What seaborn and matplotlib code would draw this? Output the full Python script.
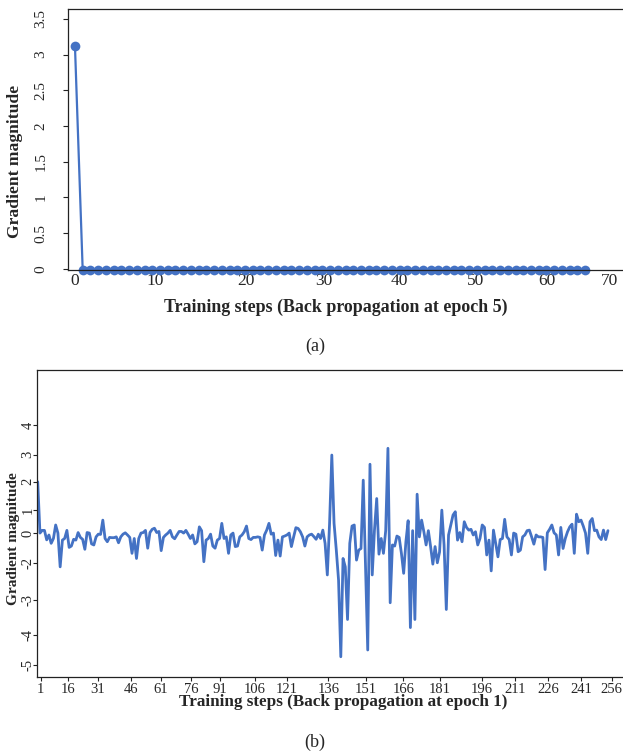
import matplotlib
matplotlib.use("Agg")
import matplotlib.pyplot as plt
import seaborn as sns
import pandas as pd

# ---------------- data (a) ----------------
steps_a = list(range(67))
grad_a = [3.12,
          -0.02, -0.02, -0.02, -0.02, -0.02, -0.02, -0.02, -0.02, -0.02, -0.02,
          -0.02, -0.02, -0.02, -0.02, -0.02, -0.02, -0.02, -0.02, -0.02, -0.02,
          -0.02, -0.02, -0.02, -0.02, -0.02, -0.02, -0.02, -0.02, -0.02, -0.02,
          -0.02, -0.02, -0.02, -0.02, -0.02, -0.02, -0.02, -0.02, -0.02, -0.02,
          -0.02, -0.02, -0.02, -0.02, -0.02, -0.02, -0.02, -0.02, -0.02, -0.02,
          -0.02, -0.02, -0.02, -0.02, -0.02, -0.02, -0.02, -0.02, -0.02, -0.02,
          -0.02, -0.02, -0.02, -0.02, -0.02, -0.02]
xtick_pos_a = [0, 10.35, 22.1, 32.2, 42.0, 51.8, 61.0, 69.1]
xtick_lab_a = ["0", "10", "20", "30", "40", "50", "60", "70"]
ytick_pos_a = [0, 0.5, 1, 1.5, 2, 2.5, 3, 3.5]
ytick_lab_a = ["0", "0.5", "1", "1.5", "2", "2.5", "3", "3.5"]

# ---------------- data (b) ----------------
grad_b = [
    1.9, 0.0, 0.1, 0.1, -0.25, -0.07, -0.38, -0.2, 0.3, 0.0,
    -1.25, -0.26, -0.2, 0.1, -0.53, -0.48, -0.23, -0.26, 0.02, -0.16,
    -0.23, -0.6, 0.02, 0.0, -0.4, -0.44, -0.14, -0.04, -0.05, 0.48,
    -0.2, -0.32, -0.16, -0.17, -0.17, -0.14, -0.36, -0.14, -0.04, 0.01,
    -0.07, -0.16, -0.75, -0.2, -0.94, -0.2, 0.0, 0.02, 0.1, -0.56,
    0.02, 0.14, 0.18, 0.02, 0.06, -0.65, -0.16, -0.07, 0.0, 0.1,
    -0.14, -0.21, -0.07, 0.06, 0.06, 0.0, 0.1, -0.04, -0.2, -0.07,
    -0.4, -0.32, 0.23, 0.09, -1.06, -0.26, -0.2, -0.04, -0.48, -0.56,
    -0.26, -0.2, 0.36, -0.2, -0.14, -0.75, -0.07, 0.0, -0.5, -0.48,
    -0.14, -0.07, 0.05, 0.26, -0.2, -0.24, -0.16, -0.16, -0.14, -0.16,
    -0.63, -0.07, 0.11, 0.36, -0.04, 0.0, -0.83, -0.26, -0.85, -0.14,
    -0.11, -0.07, 0.0, -0.5, -0.14, 0.2, 0.17, 0.05, -0.14, -0.48,
    -0.14, -0.07, -0.04, -0.13, -0.23, -0.04, -0.2, 0.11, -0.38, -1.55,
    0.36, 2.89, 0.36, -0.63, -1.74, -4.58, -0.94, -1.25, -3.2, -0.38,
    0.26, 0.3, -1.0, -0.63, -0.57, 1.96, -1.25, -4.33, 2.55, -1.55,
    0.11, 1.28, -0.78, -0.2, -0.75, 0.09, 3.14, -2.58, -0.44, -0.48,
    -0.11, -0.16, -0.75, -1.49, -0.32, 0.46, -3.5, 0.09, -3.2, 1.44,
    -0.14, 0.48, 0.05, -0.44, 0.09, -0.5, -1.15, -0.5, -1.1, -0.7,
    0.85, -0.44, -2.83, -0.07, 0.3, 0.67, 0.79, -0.26, 0.02, -0.32,
    0.42, 0.21, 0.11, 0.14, -0.07, 0.05, -0.44, -0.2, 0.3, 0.21,
    -0.81, -0.26, -1.4, 0.11, -0.38, -0.88, -0.24, -0.2, 0.51, -0.14,
    -0.24, -0.81, 0.0, -0.04, -0.69, -0.63, -0.14, -0.07, 0.09, 0.11,
    -0.14, -0.41, -0.07, -0.14, -0.14, -0.16, -1.35, 0.01, 0.14, 0.3,
    0.01, -0.07, -0.81, 0.21, -0.57, -0.2, 0.05, 0.23, 0.33, -0.75,
    0.7, 0.42, 0.48, 0.26, 0.0, -0.75, 0.42, 0.54, 0.09, 0.11,
    -0.14, -0.24, 0.11, -0.24, 0.09]
steps_b = list(range(len(grad_b)))
xtick_pos_b = [1.3, 13.6, 26.7, 41.6, 54.8, 68.2, 81.2, 96.8, 110.9, 129.4,
               146.1, 162.9, 179.2, 197.8, 212.6, 227.4, 242.0, 255.7]
xtick_lab_b = ["1", "16", "31", "46", "61", "76", "91", "106", "121", "136",
               "151", "166", "181", "196", "211", "226", "241", "256"]
ytick_pos_b = [4.0, 2.91, 1.90, 0.85, 0.0, -1.10, -2.46, -3.78, -4.89]
ytick_lab_b = ["4", "3", "2", "1", "0", "-2", "-3", "-4", "-5"]

# ---------------- style ----------------
sns.set_style("ticks")
plt.rcParams["font.family"] = ["Liberation Serif", "DejaVu Serif"]
plt.rcParams["axes.unicode_minus"] = False

BLUE = "#4472C4"
SPINE = "#222222"

fig = plt.figure(figsize=(6.23, 7.55), dpi=100)
W, H = 623.0, 755.0

def box(l, t, r, b):
    return [l / W, 1 - b / H, (r - l) / W, (b - t) / H]

# ---------------- (a) ----------------
ax1 = fig.add_axes(box(67.7, 9, 623, 270))
df_a = pd.DataFrame({"step": steps_a, "grad": grad_a})
sns.lineplot(data=df_a, x="step", y="grad", ax=ax1, color=BLUE, linewidth=1.6,
             marker="o", markersize=7, markeredgewidth=0, clip_on=False)
ax1.set_xlim(-0.94, 70.9)
ax1.set_ylim(-0.018, 3.64)
ax1.set_xticks(xtick_pos_a)
ax1.set_xticklabels(xtick_lab_a, fontsize=12.5)
ax1.set_yticks(ytick_pos_a)
ax1.set_yticklabels(ytick_lab_a, fontsize=11, rotation=90, va="center")
ax1.tick_params(axis="x", length=0, pad=2)
ax1.tick_params(axis="y", length=3.5, width=0.8, pad=11, color=SPINE)
ax1.set_xlabel("Training steps (Back propagation at epoch 5)", fontsize=12.9,
               fontweight="bold")
ax1.set_ylabel("Gradient magnitude", fontsize=12.6, fontweight="bold")
ax1.xaxis.set_label_coords(0.482, -0.111)
ax1.yaxis.set_label_coords(-0.080, 0.416)
for s in ["left", "bottom", "top"]:
    ax1.spines[s].set_color(SPINE)
    ax1.spines[s].set_linewidth(0.9)
ax1.spines["right"].set_visible(False)
fig.text(315 / W, 1 - 346 / H, "(a)", fontsize=13, ha="center", va="center")

# ---------------- (b) ----------------
ax2 = fig.add_axes(box(36.7, 370, 623, 677))
df_b = pd.DataFrame({"step": steps_b, "grad": grad_b})
sns.lineplot(data=df_b, x="step", y="grad", ax=ax2, color=BLUE, linewidth=2.0)
ax2.set_xlim(-0.45, 260.7)
ax2.set_ylim(-5.33, 6.04)
ax2.set_xticks(xtick_pos_b)
ax2.set_xticklabels(xtick_lab_b, fontsize=10.5)
ax2.set_yticks(ytick_pos_b)
ax2.set_yticklabels(ytick_lab_b, fontsize=10.5, rotation=90, va="center")
ax2.tick_params(axis="x", length=3, width=0.8, pad=1.5, color=SPINE)
ax2.tick_params(axis="y", length=3, width=0.8, pad=-1.5, color=SPINE)
ax2.set_xlabel("Training steps (Back propagation at epoch 1)", fontsize=12.3,
               fontweight="bold")
ax2.set_ylabel("Gradient magnitude", fontsize=11, fontweight="bold")
ax2.xaxis.set_label_coords(0.523, -0.055)
ax2.yaxis.set_label_coords(-0.0285, 0.4495)
for s in ["left", "bottom", "top"]:
    ax2.spines[s].set_color(SPINE)
    ax2.spines[s].set_linewidth(0.9)
ax2.spines["right"].set_visible(False)
fig.text(315 / W, 1 - 742 / H, "(b)", fontsize=13, ha="center", va="center")

fig.savefig("out.png", dpi=100)
